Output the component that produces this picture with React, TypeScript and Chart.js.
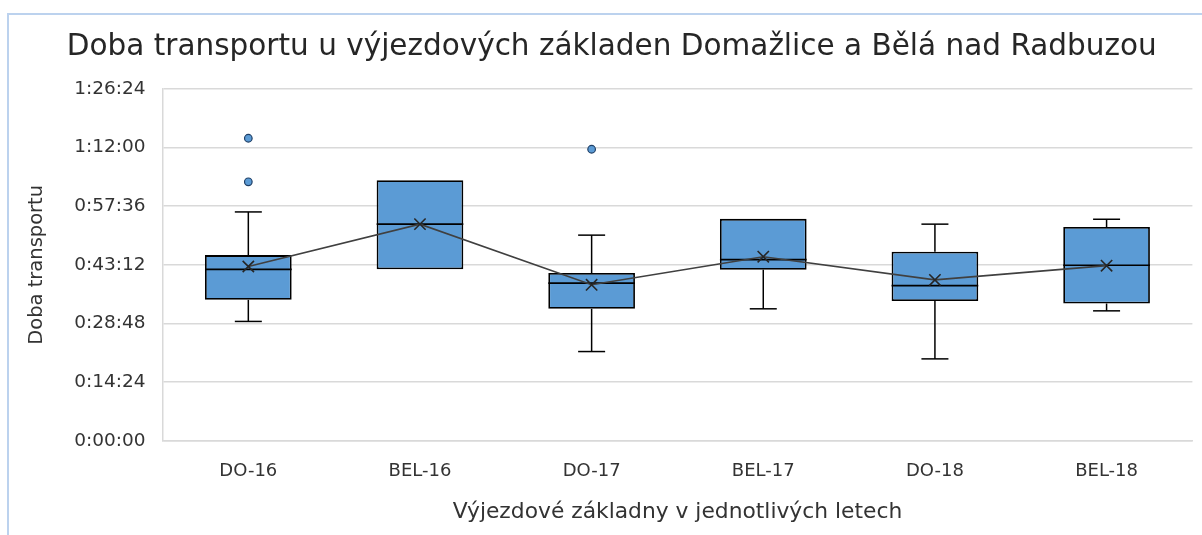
import React, { useEffect, useRef } from "react";
import { Chart, registerables } from "chart.js";

Chart.register(...registerables);

// ---- data (minutes) ----
const categories = ["DO-16", "BEL-16", "DO-17", "BEL-17", "DO-18", "BEL-18"];
const whiskerMin = [29.3, 42.1, 21.9, 32.4, 20.1, 31.9];
const q1 = [34.6, 42.1, 32.4, 42.0, 34.3, 33.7];
const median = [42.1, 53.2, 38.7, 44.5, 38.1, 43.1];
const q3 = [45.6, 64.0, 41.2, 54.5, 46.4, 52.5];
const whiskerMax = [56.2, 64.0, 50.5, 54.5, 53.2, 54.4];
const mean = [42.8, 53.2, 38.3, 45.2, 39.5, 43.0];
const outlierCats = ["DO-16", "DO-16", "DO-17"];
const outlierVals = [74.3, 63.6, 71.6];
const yTicks = [0, 14.4, 28.8, 43.2, 57.6, 72, 86.4];

const titleText = "Doba transportu u výjezdových základen Domažlice a Bělá nad Radbuzou";
const yTitle = "Doba transportu";
const xTitle = "Výjezdové základny v jednotlivých letech";

const FONT = "'DejaVu Sans', sans-serif";

function fmt(min: number): string {
  const total = Math.round(min * 60);
  const h = Math.floor(total / 3600);
  const m = Math.floor((total % 3600) / 60);
  const s = total % 60;
  return `${h}:${String(m).padStart(2, "0")}:${String(s).padStart(2, "0")}`;
}

const boxPlugin = {
  id: "boxExtras",
  beforeDatasetsDraw(chart: any) {
    const ctx = chart.ctx;
    const xs = chart.scales.x;
    const ys = chart.scales.y;
    const cap = 13.5;
    ctx.save();
    ctx.strokeStyle = "#000000";
    ctx.lineWidth = 1.5;
    for (let i = 0; i < categories.length; i++) {
      const x = xs.getPixelForValue(i);
      const segs: [number, number][] = [
        [whiskerMin[i], q1[i]],
        [q3[i], whiskerMax[i]],
      ];
      for (const [a, b] of segs) {
        if (Math.abs(a - b) < 1e-6) continue;
        const ya = ys.getPixelForValue(a);
        const yb = ys.getPixelForValue(b);
        ctx.beginPath();
        ctx.moveTo(x, ya);
        ctx.lineTo(x, yb);
        ctx.stroke();
      }
      if (whiskerMin[i] < q1[i]) {
        const y = ys.getPixelForValue(whiskerMin[i]);
        ctx.beginPath();
        ctx.moveTo(x - cap, y);
        ctx.lineTo(x + cap, y);
        ctx.stroke();
      }
      if (whiskerMax[i] > q3[i]) {
        const y = ys.getPixelForValue(whiskerMax[i]);
        ctx.beginPath();
        ctx.moveTo(x - cap, y);
        ctx.lineTo(x + cap, y);
        ctx.stroke();
      }
    }
    ctx.restore();
  },
  afterDatasetDraw(chart: any, args: any) {
    if (args.index !== 0) return;
    const ctx = chart.ctx;
    const ys = chart.scales.y;
    const meta = chart.getDatasetMeta(0);
    ctx.save();
    ctx.strokeStyle = "#000000";
    ctx.lineWidth = 1.7;
    meta.data.forEach((bar: any, i: number) => {
      const y = ys.getPixelForValue(median[i]);
      ctx.beginPath();
      ctx.moveTo(bar.x - bar.width / 2, y);
      ctx.lineTo(bar.x + bar.width / 2, y);
      ctx.stroke();
    });
    ctx.restore();
  },
};

export default function App() {
  const ref = useRef<HTMLCanvasElement | null>(null);
  useEffect(() => {
    if (!ref.current) return;
    const chart = new Chart(ref.current, {
      type: "bar",
      data: {
        labels: categories,
        datasets: [
          {
            type: "bar",
            data: categories.map((_, i) => [q1[i], q3[i]]) as any,
            backgroundColor: "#5B9BD5",
            borderColor: "#000000",
            borderWidth: 1.8,
            borderSkipped: false,
            barPercentage: 0.505,
            categoryPercentage: 1,
            order: 3,
          },
          {
            type: "line",
            data: mean,
            borderColor: "#404040",
            borderWidth: 1.6,
            pointStyle: "crossRot",
            pointRadius: 8,
            pointBorderColor: "#262626",
            pointBorderWidth: 1.6,
            fill: false,
            order: 1,
          } as any,
          {
            type: "line",
            data: outlierCats.map((c, i) => ({ x: c, y: outlierVals[i] })),
            showLine: false,
            pointStyle: "circle",
            pointRadius: 3.8,
            pointBackgroundColor: "#5B9BD5",
            pointBorderColor: "#1F3F66",
            pointBorderWidth: 1.2,
            order: 2,
          } as any,
        ],
      },
      options: {
        responsive: true,
        maintainAspectRatio: false,
        animation: false,
        layout: { padding: { left: 20, right: -1.5, top: 0, bottom: 0 } },
        plugins: {
          legend: { display: false },
          tooltip: { enabled: false },
          title: {
            display: true,
            text: titleText,
            color: "#262626",
            font: { family: FONT, size: 29.5, weight: "normal", lineHeight: 1.2 },
            padding: { top: 29.3, bottom: 24.3 },
          },
        },
        scales: {
          x: {
            type: "category",
            grid: { display: false, drawTicks: false },
            border: { display: true, color: "#d9d9d9", width: 1.5 },
            ticks: {
              color: "#333333",
              padding: 20,
              font: { family: FONT, size: 18, lineHeight: 1.2 },
            },
            title: {
              display: true,
              text: xTitle,
              color: "#333333",
              font: { family: FONT, size: 21.8, lineHeight: 1.2 },
              padding: { top: 0, bottom: 10 },
            },
            afterFit(scale: any) {
              scale.height = 94.3;
            },
          },
          y: {
            type: "linear",
            min: 0,
            max: 86.4,
            afterBuildTicks(scale: any) {
              scale.ticks = yTicks.map((v) => ({ value: v }));
            },
            grid: { color: "#d9d9d9", lineWidth: 1.5, drawTicks: false },
            border: { display: true, color: "#d9d9d9", width: 1.5 },
            ticks: {
              color: "#333333",
              padding: 17,
              font: { family: FONT, size: 18.5, lineHeight: 1.2 },
              callback: (v: any) => fmt(Number(v)),
            },
            title: {
              display: true,
              text: yTitle,
              color: "#333333",
              font: { family: FONT, size: 19.5, lineHeight: 1.2 },
              padding: { top: 5, bottom: 0 },
            },
            afterFit(scale: any) {
              scale.width = 142.5;
            },
          },
        },
      },
      plugins: [boxPlugin],
    });
    return () => chart.destroy();
  }, []);

  return (
    <div style={{ position: "absolute", left: 0, top: 0, width: 1202, height: 535, background: "#ffffff", overflow: "hidden" }}>
      <div
        style={{
          position: "absolute",
          left: 7,
          top: 13,
          width: 1195,
          height: 522,
          boxSizing: "border-box",
          borderLeft: "2px solid #bcd2ee",
          borderTop: "2px solid #bcd2ee",
        }}
      />
      <canvas ref={ref} style={{ position: "absolute", left: 0, top: 0 }} />
    </div>
  );
}
